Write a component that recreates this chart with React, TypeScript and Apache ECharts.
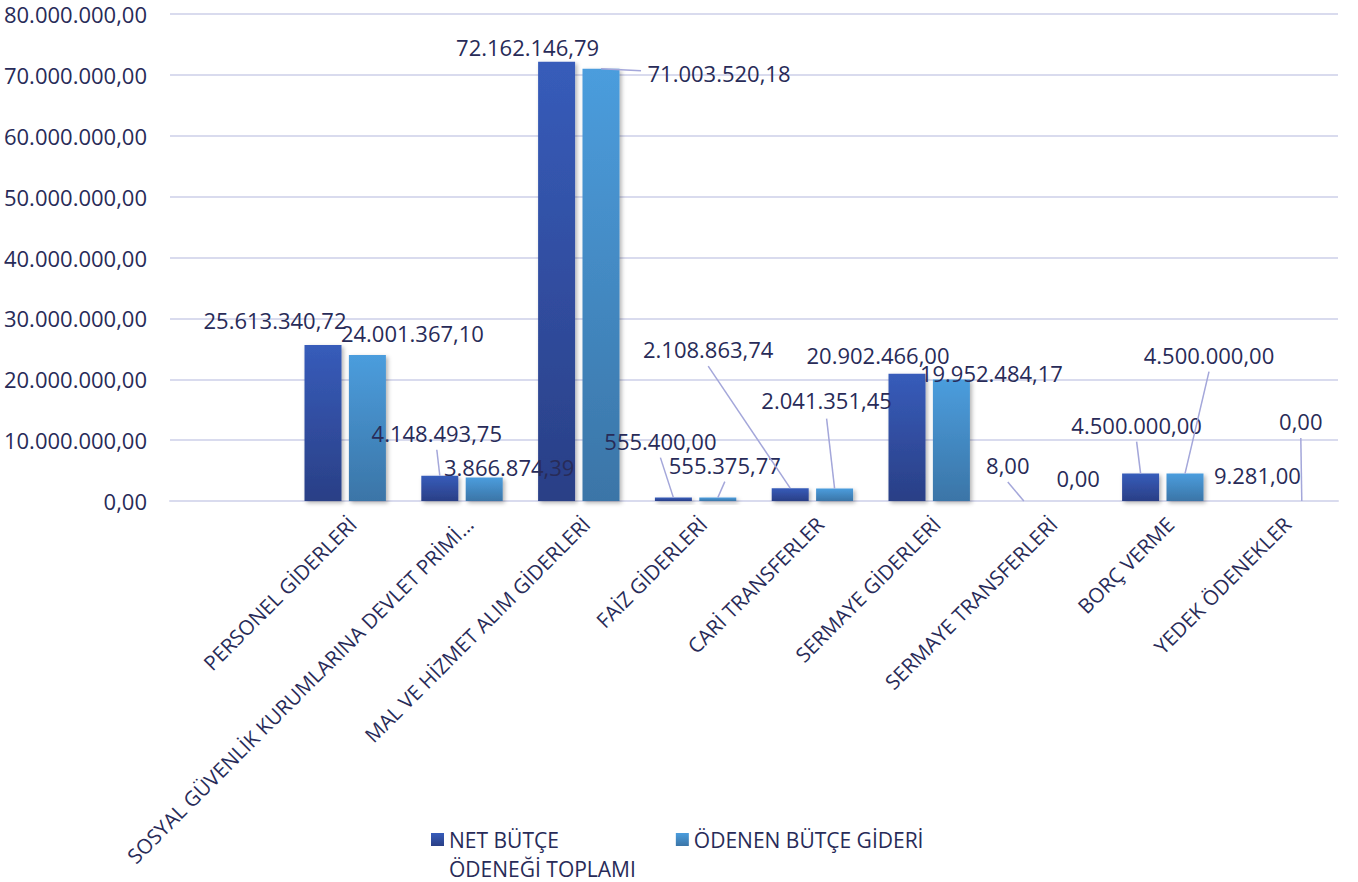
import React, { useEffect, useRef } from "react";
import * as echarts from "echarts";

const categories = [
  "",
  "PERSONEL GİDERLERİ",
  "SOSYAL GÜVENLİK KURUMLARINA DEVLET PRİMİ...",
  "MAL VE HİZMET ALIM GİDERLERİ",
  "FAİZ GİDERLERİ",
  "CARİ TRANSFERLER",
  "SERMAYE GİDERLERİ",
  "SERMAYE TRANSFERLERİ",
  "BORÇ VERME",
  "YEDEK ÖDENEKLER",
];
const seriesNames = ["NET BÜTÇE ÖDENEĞİ TOPLAMI", "ÖDENEN BÜTÇE GİDERİ"];
const netButceOdenegi: (number | null)[] = [
  null, 25613340.72, 4148493.75, 72162146.79, 555400.0, 2108863.74, 20902466.0, 8.0, 4500000.0, 9281.0,
];
const odenenButceGideri: (number | null)[] = [
  null, 24001367.1, 3866874.39, 71003520.18, 555375.77, 2041351.45, 19952484.17, 0.0, 4500000.0, 0.0,
];
const yMin = 0;
const yMax = 80000000;
const yInterval = 10000000;

// label placement (offset of label centre from bar top-centre), styling only
const netOffsets: [number, number][] = [
  [0, 0], [-48, -25], [-3, -43], [-29, -15], [-13, -57], [-82, -139], [-29, -19], [-16, -36], [-4, -49], [0, -26],
];
const odenenOffsets: [number, number][] = [
  [0, 0], [45, -22], [25, -10], [118, 4], [7, -33], [-8, -89], [40, -7], [10, -23], [24, -119], [-1, -80],
];
// leader line anchor on the label, relative to label centre (null = no line)
const B: [number, number] = [0, 17];
const netAnchors: ([number, number] | null)[] = [null, null, B, null, B, B, null, B, B, null];
const odenenAnchors: ([number, number] | null)[] = [null, null, null, [-78, -2], B, [0, 19], null, null, B, B];

const TEXT = "#282b58";
const FONT = "'Open Sans', 'Noto Sans', sans-serif";
const GRID = "#d9dbee";
const LEADER = "#a4a7da";
const BAR_W = 37;
const BAR_GAP = 0.2;
const HALF_SHIFT = (BAR_W + BAR_W * BAR_GAP) / 2;

function trNum(v: number): string {
  const fixed = Math.abs(v).toFixed(2);
  const [ip, dp] = fixed.split(".");
  const withSep = ip.replace(/\B(?=(\d{3})+(?!\d))/g, ".");
  return (v < 0 ? "-" : "") + withSep + "," + dp;
}

function makeBar(
  name: string,
  values: (number | null)[],
  offsets: [number, number][],
  top: string,
  bottom: string
) {
  return {
    type: "bar",
    name,
    barWidth: BAR_W,
    barGap: BAR_GAP * 100 + "%",
    data: values,
    itemStyle: {
      color: new echarts.graphic.LinearGradient(0, 0, 0, 1, [
        { offset: 0, color: top },
        { offset: 1, color: bottom },
      ]),
      shadowColor: "rgba(0,0,0,0.3)",
      shadowBlur: 4,
      shadowOffsetX: 2,
      shadowOffsetY: 2,
    },
    label: {
      show: true,
      position: "top",
      formatter: (p: any) => trNum(p.value),
      fontSize: 22,
      color: TEXT,
      fontFamily: FONT,
    },
    labelLayout: (params: any) => {
      const r = params.rect;
      const [dx, dy] = offsets[params.dataIndex] || [0, 0];
      return {
        x: r.x + r.width / 2 + dx,
        y: r.y + dy,
        align: "center",
        verticalAlign: "middle",
      };
    },
  };
}

function makeLeaders(
  values: (number | null)[],
  offsets: [number, number][],
  anchors: ([number, number] | null)[],
  shift: number
) {
  return {
    type: "custom",
    silent: true,
    z: 3,
    data: values.map((v, i) => [i, v === null ? 0 : v]),
    renderItem: (params: any, api: any) => {
      const i = params.dataIndex;
      const a = anchors[i];
      if (!a) return { type: "group", children: [] };
      const p = api.coord([api.value(0), api.value(1)]);
      const bx = p[0] + shift;
      const by = p[1];
      const [dx, dy] = offsets[i];
      return {
        type: "line",
        shape: { x1: bx, y1: by, x2: bx + dx + a[0], y2: by + dy + a[1] },
        style: { stroke: LEADER, lineWidth: 1.5 },
      };
    },
  };
}

export default function App() {
  const ref = useRef<HTMLDivElement>(null);
  useEffect(() => {
    if (!ref.current) return;
    const chart = echarts.init(ref.current, undefined, { renderer: "svg" });
    chart.setOption({
      animation: false,
      backgroundColor: "#ffffff",
      textStyle: { fontFamily: FONT },
      grid: {
        left: 170,
        right: 20,
        top: 14,
        bottom: 381,
        containLabel: false,
        outerBoundsMode: "none",
      },
      xAxis: {
        type: "category",
        data: categories,
        axisLine: { show: true, lineStyle: { color: GRID, width: 2 } },
        axisTick: { show: false },
        axisLabel: {
          interval: 0,
          rotate: 45,
          fontSize: 20.5,
          color: TEXT,
          fontFamily: FONT,
          margin: 12,
          verticalAlign: "top",
        },
      },
      yAxis: {
        type: "value",
        min: yMin,
        max: yMax,
        interval: yInterval,
        axisLine: { show: false },
        axisTick: { show: false },
        splitLine: { lineStyle: { color: GRID, width: 2 } },
        axisLabel: {
          fontSize: 22,
          color: TEXT,
          fontFamily: FONT,
          margin: 23,
          formatter: (v: number) => trNum(v),
        },
      },
      legend: {
        left: 431,
        top: 796,
        padding: 0,
        icon: "rect",
        itemWidth: 13,
        itemHeight: 13,
        itemGap: 40,
        textStyle: { fontSize: 21, color: TEXT, fontFamily: FONT, lineHeight: 29 },
        data: [{ name: seriesNames[0] }, { name: seriesNames[1] }],
        formatter: (n: string) =>
          n === seriesNames[0] ? "\nNET BÜTÇE\nÖDENEĞİ TOPLAMI" : n,
      },
      series: [
        makeBar(seriesNames[0], netButceOdenegi, netOffsets, "#375cba", "#2a3f86"),
        makeBar(seriesNames[1], odenenButceGideri, odenenOffsets, "#4b9ddd", "#3b75a7"),
        makeLeaders(netButceOdenegi, netOffsets, netAnchors, -HALF_SHIFT),
        makeLeaders(odenenButceGideri, odenenOffsets, odenenAnchors, HALF_SHIFT),
      ],
    });
    return () => chart.dispose();
  }, []);
  return (
    <div
      ref={ref}
      style={{ position: "fixed", left: 0, top: 0, width: 1358, height: 882, background: "#fff" }}
    />
  );
}
